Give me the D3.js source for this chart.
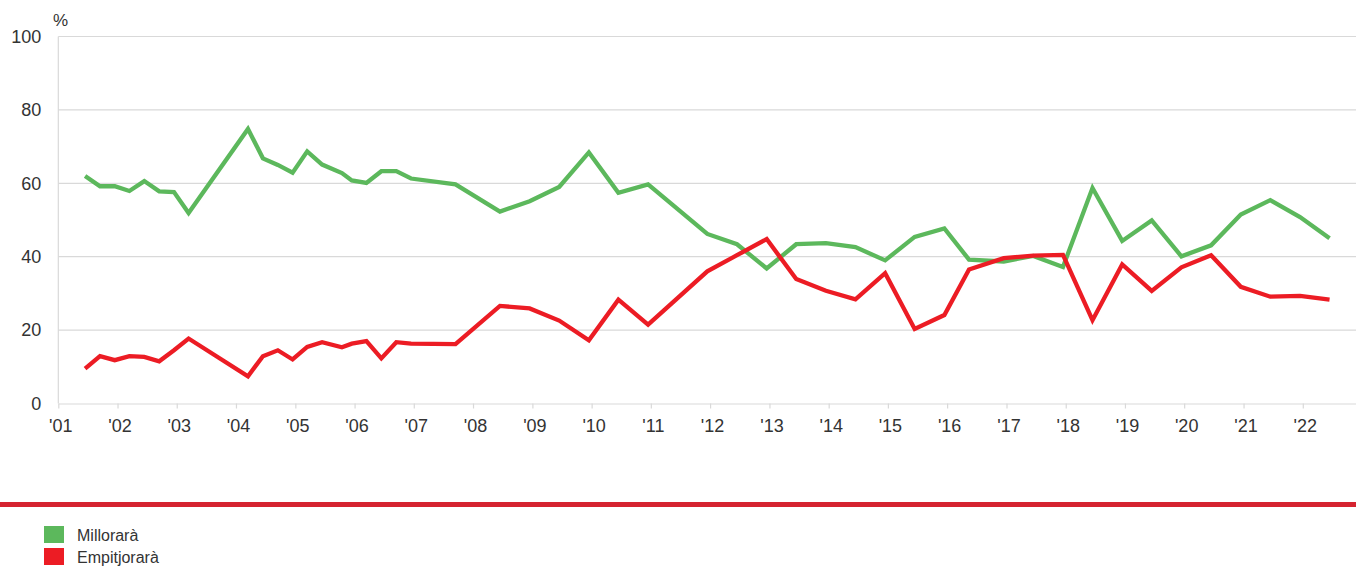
<!DOCTYPE html>
<html>
<head>
<meta charset="utf-8">
<script src="https://cdn.jsdelivr.net/npm/d3@7"></script>
<style>
  body { margin: 0; background: #fff; }
  svg { display: block; font-family: Arial, "Liberation Sans", sans-serif; }
</style>
</head>
<body>
<svg width="1356" height="566"></svg>
<script>
// survey dates (month of each wave)
var dates = ["2001-06", "2001-09", "2001-12", "2002-03", "2002-06", "2002-09", "2002-12", "2003-03",
  "2004-03", "2004-06", "2004-09", "2004-12", "2005-03", "2005-06", "2005-10", "2005-12",
  "2006-03", "2006-06", "2006-09", "2006-12", "2007-09", "2008-06", "2008-12", "2009-06",
  "2009-12", "2010-06", "2010-12", "2011-12", "2012-06", "2012-12", "2013-06", "2013-12",
  "2014-06", "2014-12", "2015-06", "2015-12", "2016-05", "2016-12", "2017-06", "2017-12",
  "2018-06", "2018-12", "2019-06", "2019-12", "2020-06", "2020-12", "2021-06", "2021-12",
  "2022-06"];

var millorara = [62.0, 59.2, 59.2, 57.9, 60.6, 57.8, 57.6, 51.9,
  74.8, 66.8, 65.0, 62.9, 68.7, 65.1, 62.8, 60.8,
  60.1, 63.3, 63.3, 61.3, 59.7, 52.3, 55.1, 59.0,
  68.4, 57.4, 59.7, 46.2, 43.4, 36.8, 43.4, 43.7,
  42.6, 39.0, 45.4, 47.7, 39.2, 38.7, 40.2, 37.2,
  58.7, 44.3, 49.9, 40.1, 43.1, 51.5, 55.4, 50.8,
  45.0];

var empitjorara = [9.5, 12.9, 11.8, 12.9, 12.7, 11.5, 14.5, 17.7,
  7.4, 12.9, 14.5, 12.0, 15.4, 16.7, 15.3, 16.3,
  17.0, 12.3, 16.7, 16.3, 16.2, 26.6, 25.9, 22.6,
  17.2, 28.3, 21.5, 36.0, 40.4, 44.8, 33.9, 30.7,
  28.4, 35.5, 20.3, 24.1, 36.5, 39.6, 40.3, 40.5,
  22.7, 37.9, 30.7, 37.1, 40.4, 31.8, 29.1, 29.3,
  28.3];

var yTicks = [0, 20, 40, 60, 80, 100];
var yearTicks = d3.range(2001, 2023);

var seriesNames = ["Millorarà", "Empitjorarà"];
var seriesColors = ["#5cb85c", "#ec1c24"];

var svg = d3.select("svg"),
    width = +svg.attr("width"),
    height = +svg.attr("height");

var parseMonth = d3.timeParse("%Y-%m");
var mid = function(s) { return d3.timeDay.offset(parseMonth(s), 14); };

var x = d3.scaleTime()
    .domain([new Date(2001, 0, 1), new Date(2023, 0, 1)])
    .range([58.3, 1362]);

var y = d3.scaleLinear()
    .domain([0, 100])
    .range([403.5, 36.5]);

// gridlines
svg.append("g")
  .selectAll("line")
  .data(yTicks.filter(function(d) { return d > 0; }))
  .enter().append("line")
    .attr("x1", x.range()[0])
    .attr("x2", width)
    .attr("y1", function(d) { return y(d); })
    .attr("y2", function(d) { return y(d); })
    .attr("stroke", "#d9d9d9")
    .attr("stroke-width", 1.2);

// left axis line
svg.append("line")
    .attr("x1", x.range()[0]).attr("x2", x.range()[0])
    .attr("y1", y(100)).attr("y2", y(0))
    .attr("stroke", "#d9d9d9")
    .attr("stroke-width", 1.2);

var yAxis = svg.append("g")
    .attr("transform", "translate(" + x.range()[0] + ",0)")
    .call(d3.axisLeft(y).tickValues(yTicks).tickSize(0).tickPadding(17));
yAxis.select(".domain").remove();
yAxis.selectAll("text")
    .style("font-size", "18px")
    .style("font-family", "Arial, 'Liberation Sans', sans-serif")
    .attr("fill", "#333");

var xAxis = svg.append("g")
    .attr("transform", "translate(0," + y(0) + ")")
    .call(d3.axisBottom(x)
      .tickValues(yearTicks.map(function(d) { return new Date(d, 0, 1); }))
      .tickSize(5)
      .tickSizeOuter(0)
      .tickPadding(11)
      .tickFormat(function(d) { return "'" + d3.timeFormat("%y")(d); }));
xAxis.select(".domain").attr("stroke", "#d9d9d9").attr("stroke-width", 1.2);
xAxis.selectAll(".tick line").attr("stroke", "#d9d9d9").attr("stroke-width", 1.2);
xAxis.selectAll("text")
    .style("font-size", "18px")
    .style("font-family", "Arial, 'Liberation Sans', sans-serif")
    .attr("fill", "#333")
    .attr("dx", "2px");

svg.append("text")
    .attr("x", 53)
    .attr("y", 26)
    .style("font-size", "17px")
    .attr("fill", "#333")
    .text("%");

var line = d3.line()
    .x(function(d) { return x(d.date); })
    .y(function(d) { return y(d.value); });

[millorara, empitjorara].forEach(function(vals, i) {
  var pts = dates.map(function(s, j) { return { date: mid(s), value: vals[j] }; });
  svg.append("path")
      .datum(pts)
      .attr("fill", "none")
      .attr("stroke", seriesColors[i])
      .attr("stroke-width", 4.3)
      .attr("stroke-linejoin", "miter")
      .attr("d", line);
});

// red separator
svg.append("rect")
    .attr("x", 0).attr("y", 502)
    .attr("width", width).attr("height", 5)
    .attr("fill", "#d52330");

// legend
var legend = svg.append("g")
  .selectAll("g")
  .data(seriesNames)
  .enter().append("g")
    .attr("transform", function(d, i) { return "translate(44," + (526 + i * 22) + ")"; });

legend.append("rect")
    .attr("width", 20)
    .attr("height", 17)
    .attr("fill", function(d, i) { return seriesColors[i]; });

legend.append("text")
    .attr("x", 33)
    .attr("y", 15)
    .style("font-size", "16px")
    .attr("fill", "#333")
    .text(function(d) { return d; });
</script>
</body>
</html>
